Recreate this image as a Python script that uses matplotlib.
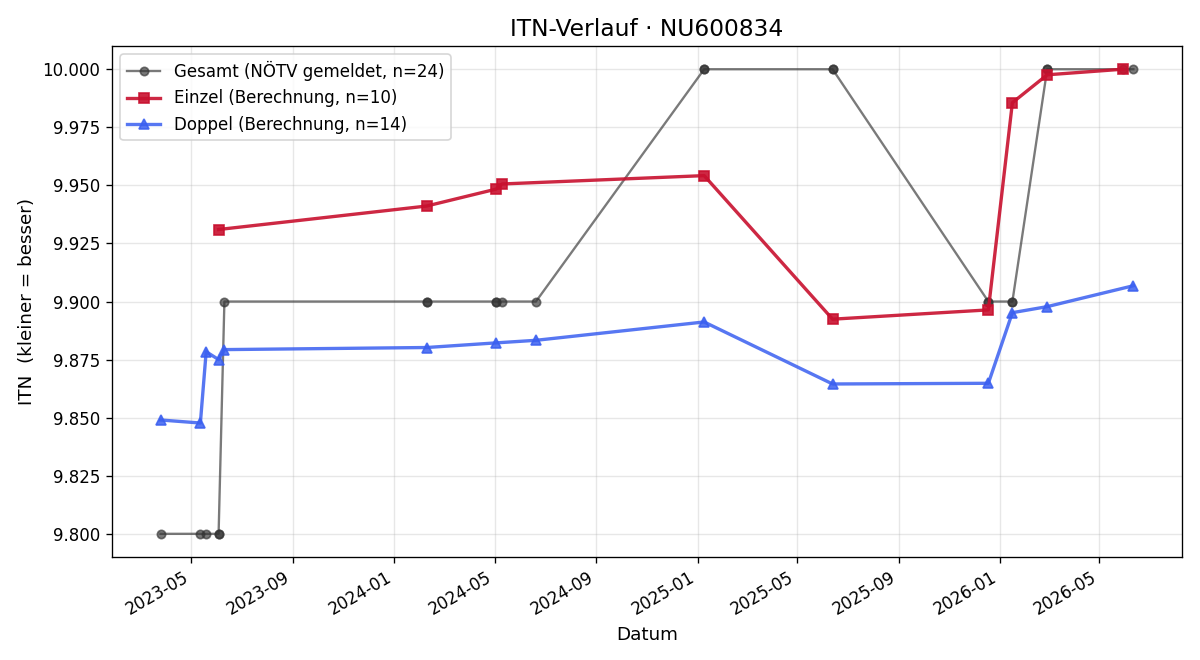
import matplotlib
matplotlib.use("Agg")
import matplotlib.pyplot as plt
import matplotlib.dates as mdates
import pandas as pd
from matplotlib.ticker import FormatStrFormatter

gesamt_dates = ["2023-03-25", "2023-05-12", "2023-05-19", "2023-06-03", "2023-06-03",
                "2023-06-10", "2024-02-09", "2024-02-09", "2024-05-03", "2024-05-03",
                "2024-05-10", "2024-06-20", "2025-01-09", "2025-01-09", "2025-06-13",
                "2025-06-13", "2025-12-18", "2025-12-18", "2026-01-16", "2026-01-16",
                "2026-02-27", "2026-02-27", "2026-05-29", "2026-06-11"]
gesamt_vals = [9.8, 9.8, 9.8, 9.8, 9.8,
               9.9, 9.9, 9.9, 9.9, 9.9,
               9.9, 9.9, 10.0, 10.0, 10.0,
               10.0, 9.9, 9.9, 9.9, 9.9,
               10.0, 10.0, 10.0, 10.0]

einzel_dates = ["2023-06-03", "2024-02-09", "2024-05-03", "2024-05-10", "2025-01-09",
                "2025-06-13", "2025-12-18", "2026-01-16", "2026-02-27", "2026-05-29"]
einzel_vals = [9.931, 9.9411, 9.9484, 9.9506, 9.9542,
               9.8924, 9.8964, 9.9856, 9.9976, 10.0]

doppel_dates = ["2023-03-25", "2023-05-12", "2023-05-19", "2023-06-03", "2023-06-10",
                "2024-02-09", "2024-05-03", "2024-06-20", "2025-01-09", "2025-06-13",
                "2025-12-18", "2026-01-16", "2026-02-27", "2026-06-11"]
doppel_vals = [9.849, 9.8477, 9.8784, 9.8750, 9.8793,
               9.8802, 9.8822, 9.8833, 9.8912, 9.8645,
               9.8648, 9.8952, 9.8978, 9.9068]

fig, ax = plt.subplots(figsize=(10, 5.5), dpi=120)

ax.plot(pd.to_datetime(gesamt_dates), gesamt_vals, marker="o", color="#333333",
        alpha=0.65, linewidth=1.4, markersize=5, label="Gesamt (NÖTV gemeldet, n=24)")
ax.plot(pd.to_datetime(einzel_dates), einzel_vals, marker="s", color="#c8102e",
        alpha=0.9, linewidth=2, markersize=6, label="Einzel (Berechnung, n=10)")
ax.plot(pd.to_datetime(doppel_dates), doppel_vals, marker="^", color="#3a5ff0",
        alpha=0.85, linewidth=2, markersize=6, label="Doppel (Berechnung, n=14)")

ax.set_title("ITN-Verlauf · NU600834", fontsize=14)
ax.set_xlabel("Datum", fontsize=11)
ax.set_ylabel("ITN  (kleiner = besser)", fontsize=11)
ax.yaxis.set_major_formatter(FormatStrFormatter("%.3f"))
ax.xaxis.set_major_locator(mdates.MonthLocator(bymonth=[1, 5, 9]))
ax.xaxis.set_major_formatter(mdates.DateFormatter("%Y-%m"))
ax.grid(True, alpha=0.3)
ax.legend(loc="upper left")
fig.autofmt_xdate()
fig.subplots_adjust(left=0.0933, right=0.985, top=0.9303, bottom=0.156)
fig.savefig("out.png")
